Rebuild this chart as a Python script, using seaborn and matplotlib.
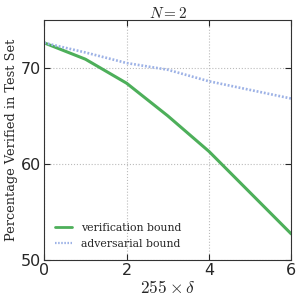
import numpy as np
import pandas as pd
import matplotlib
matplotlib.use("Agg")
import matplotlib.pyplot as plt
import seaborn as sns
from matplotlib.lines import Line2D

# values
delta = [0, 1, 2, 3, 4, 5, 6]
verification = [72.6, 70.9, 68.4, 65.0, 61.3, 57.0, 52.7]
adversarial = [72.6, 71.6, 70.5, 69.8, 68.6, 67.7, 66.8]

sns.set_style("ticks")
plt.rcParams["mathtext.fontset"] = "cm"
plt.rcParams["font.family"] = ["DejaVu Sans"]

green = "#4daf5a"
blue = "#9db2e6"

df = pd.DataFrame({
    "delta": delta * 2,
    "value": verification + adversarial,
    "bound": ["verification bound"] * len(delta) + ["adversarial bound"] * len(delta),
})

fig, ax = plt.subplots(figsize=(3.05, 3.05), dpi=100)
sns.lineplot(data=df, x="delta", y="value", hue="bound", style="bound",
             palette=[green, blue],
             dashes=[(None, None), (0.7, 0.7)], ax=ax, legend=False)
ax.lines[0].set_linewidth(2.2)
ax.lines[1].set_linewidth(1.9)

ax.set_xlim(0, 6)
ax.set_ylim(50, 75)
ax.set_xticks([0, 2, 4, 6])
ax.set_yticks([50, 60, 70])
ax.grid(True, color="#bbbbbb", linestyle=":", linewidth=0.8)
ax.tick_params(top=True, right=True, direction="in", labelsize=11.5, length=4, pad=2)
for s in ax.spines.values():
    s.set_color("#333333")

ax.set_xlabel(r"$255 \times \delta$", fontsize=12.5, labelpad=1)
ax.set_ylabel("Percentage Verified in Test Set", fontsize=9.3, family="DejaVu Serif", labelpad=2)
ax.set_title(r"$N = 2$", fontsize=11, pad=1)

handles = [Line2D([], [], color=green, lw=2.0),
           Line2D([], [], color=blue, lw=1.6, linestyle=(0, (0.7, 0.7)))]
ax.legend(handles, ["verification bound", "adversarial bound"], loc="lower left",
          frameon=False, prop={"family": "DejaVu Serif", "size": 7.8},
          handlelength=1.6, borderaxespad=0.6, labelspacing=0.6)

fig.subplots_adjust(left=0.145, right=0.955, top=0.935, bottom=0.148)
fig.savefig("out.png", dpi=100)
